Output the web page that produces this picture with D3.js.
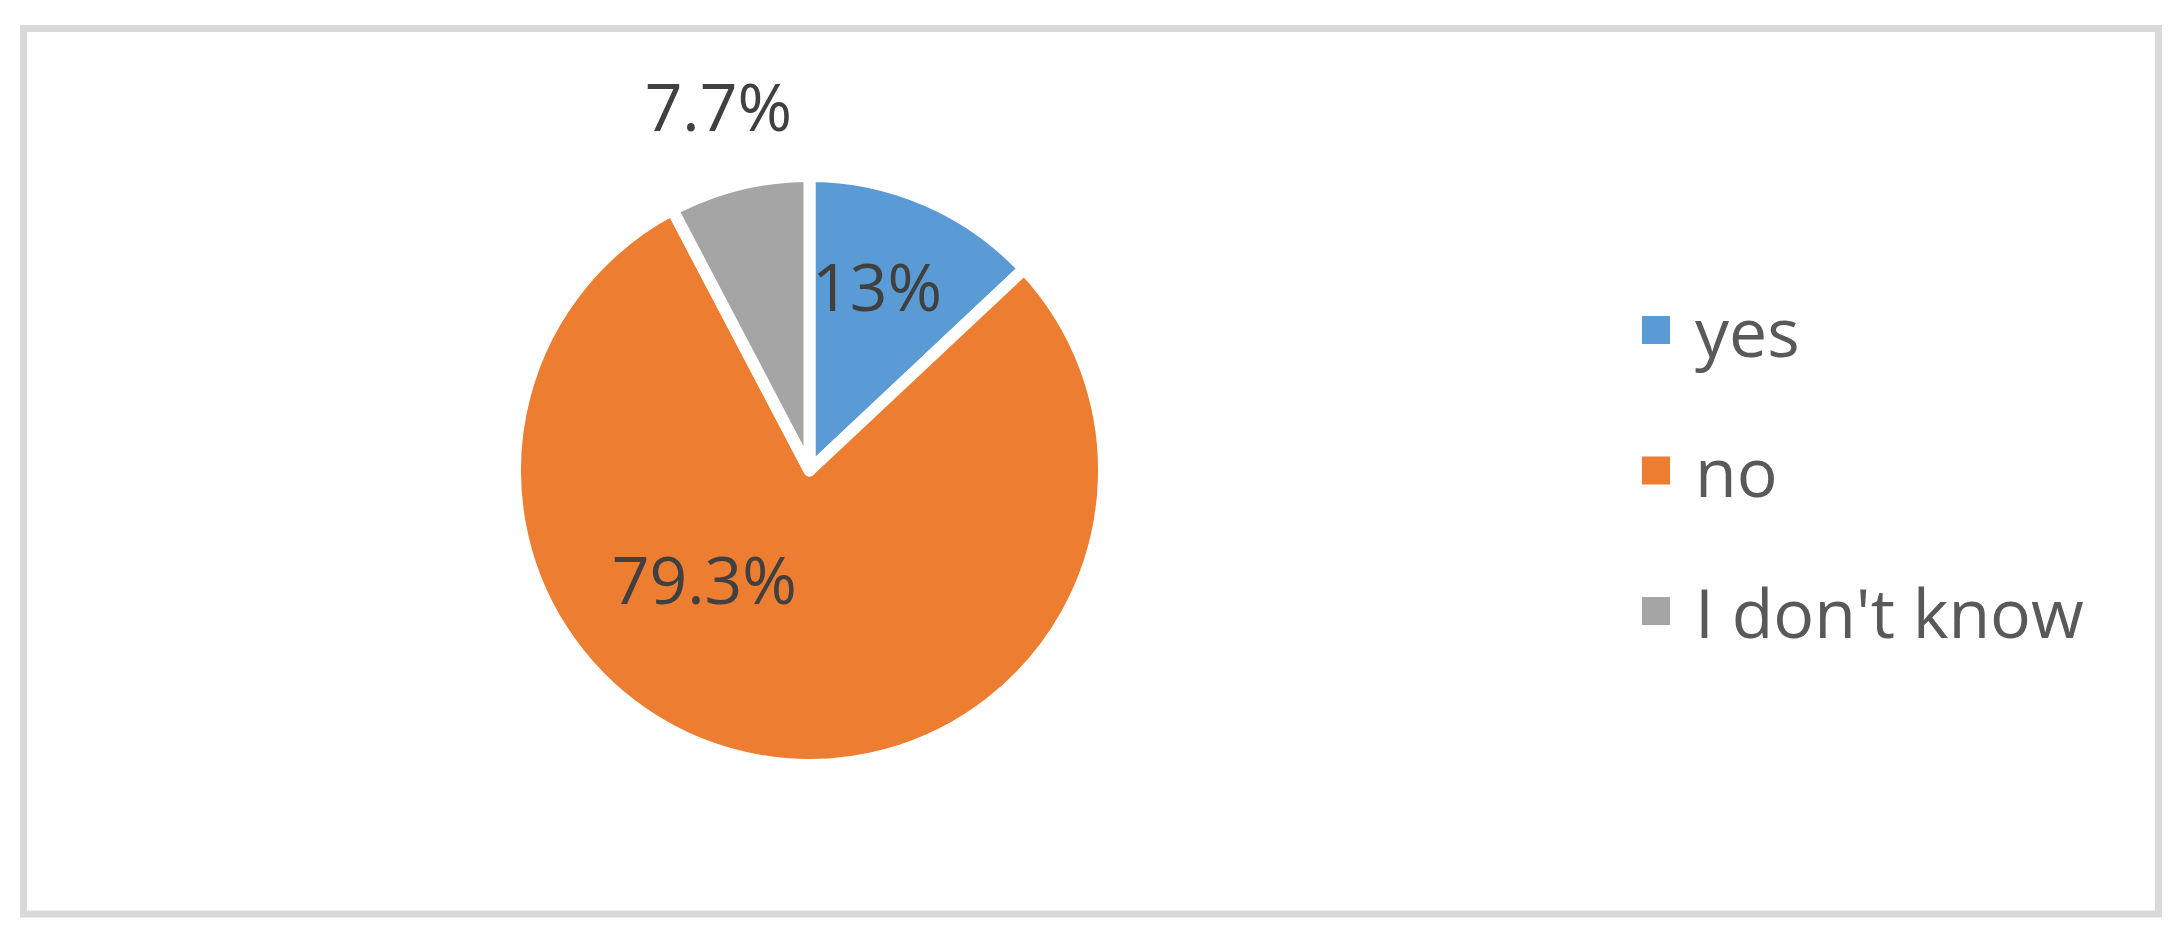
<!DOCTYPE html>
<html>
<head>
<meta charset="utf-8">
<script src="https://cdn.jsdelivr.net/npm/d3@7"></script>
<style>
  html, body { margin: 0; padding: 0; background: #fff; }
  svg { display: block; }
</style>
</head>
<body>
<svg width="2183" height="946"></svg>
<script>
// data
var categories = ['yes', 'no', "I don't know"];
var shares = [13, 79.3, 7.7];
var labels = ['13%', '79.3%', '7.7%'];
var colors = ['#5b9bd5', '#ed7d31', '#a5a5a5'];

// best-fit label spots (radius factor, angle in degrees from 12 o'clock)
var labelSpots = [[0.67, 20], [0.51, 224.5], [1.28, 346]];

var svg = d3.select('svg'),
  width = +svg.attr('width'),
  height = +svg.attr('height');

// chart frame
svg.append('rect')
  .attr('x', 23.5)
  .attr('y', 28.5)
  .attr('width', 2135)
  .attr('height', 885.5)
  .attr('fill', '#fff')
  .attr('stroke', '#d9d9d9')
  .attr('stroke-width', 7);

var cx = 809.5, cy = 470.5, gap = 12, radius = 288.5 + gap / 2;

var pie = d3.pie().sort(null).value(d => d);
var arc = d3.arc().innerRadius(0).outerRadius(radius);

var g = svg.append('g').attr('transform', `translate(${cx}, ${cy})`);

var slices = pie(shares);

g.selectAll('path')
  .data(slices)
  .enter()
  .append('path')
  .attr('d', arc)
  .attr('fill', (d, i) => colors[i])
  .attr('stroke', '#fff')
  .attr('stroke-width', gap)
  .attr('stroke-linejoin', 'round');

g.selectAll('text.lbl')
  .data(slices)
  .enter()
  .append('text')
  .attr('class', 'lbl')
  .attr('x', (d, i) => labelSpots[i][0] * radius * Math.sin(labelSpots[i][1] * Math.PI / 180))
  .attr('y', (d, i) => -labelSpots[i][0] * radius * Math.cos(labelSpots[i][1] * Math.PI / 180))
  .attr('text-anchor', 'middle')
  .attr('dominant-baseline', 'central')
  .style('font-family', '"Open Sans", sans-serif')
  .style('font-size', '66px')
  .style('fill', '#404040')
  .text((d, i) => labels[i]);

// legend
var legendY = d3.scalePoint()
  .domain(categories)
  .range([330, 611]);

var legend = svg.selectAll('.legend')
  .data(categories)
  .enter()
  .append('g')
  .attr('class', 'legend')
  .attr('transform', d => `translate(1642, ${legendY(d)})`);

legend.append('rect')
  .attr('x', 0)
  .attr('y', -14)
  .attr('width', 28)
  .attr('height', 28)
  .attr('fill', (d, i) => colors[i]);

legend.append('text')
  .attr('x', 53)
  .attr('y', 0)
  .attr('dominant-baseline', 'central')
  .style('font-family', '"Open Sans", sans-serif')
  .style('font-size', '68px')
  .style('fill', '#595959')
  .text(d => d);
</script>
</body>
</html>
